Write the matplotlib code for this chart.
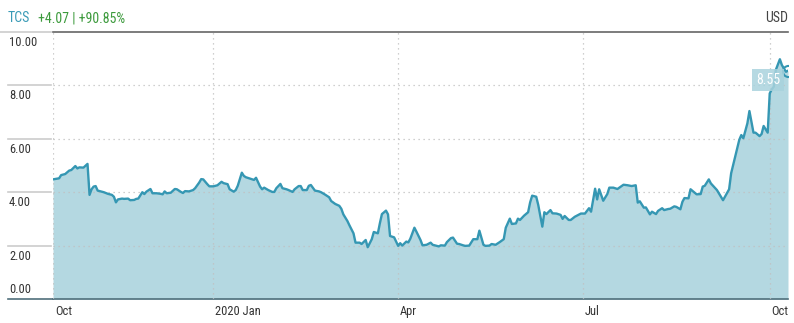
import numpy as np
import matplotlib
matplotlib.use("Agg")
import matplotlib.pyplot as plt
import matplotlib.transforms as mtransforms
from matplotlib.font_manager import fontManager

# day offsets from 2019-10-14 and closing price (USD)
start = np.datetime64("2019-10-14")
days = [0, 3, 4, 6, 8, 9, 11, 12, 13, 15, 17, 18, 19, 20, 21, 22, 25, 27, 29, 30,
        31, 32, 34, 35, 37, 38, 40, 41, 42, 44, 45, 46, 48, 49, 51, 53, 54, 55, 56, 58,
        60, 61, 63, 64, 65, 67, 69, 70, 72, 73, 74, 76, 77, 79, 81, 83, 84, 86, 87, 89,
        90, 91, 93, 94, 95, 97,
        99, 100, 102, 103, 104, 106, 108, 109, 110, 112, 113, 115, 116, 118, 119, 121,
        122, 123, 125, 126, 127, 129, 131, 132, 134, 136, 137, 139, 141, 142, 143, 145,
        146, 148, 149, 151, 152, 154, 155, 157, 158, 160, 161, 162, 164, 165, 166, 168,
        170, 171, 172, 174, 175, 176, 178, 179, 181, 182, 184, 186, 187, 190, 191, 193,
        194, 196,
        197, 199, 200, 202, 203, 205, 207, 209, 210, 212, 213, 215, 216, 218, 220, 222,
        223, 225, 226, 228, 229, 230, 232, 234, 235, 236, 238, 239, 241, 242, 243, 245,
        246, 248, 250, 251, 252, 254, 255, 257, 258, 260, 261, 262, 264, 265, 267, 268,
        269, 271, 273, 274, 276, 278, 280, 281, 283, 285, 287, 288, 289, 291, 292, 294,
        295, 297, 298, 300, 301, 303, 304, 306, 307, 309, 310, 311, 313, 314, 316, 317,
        319, 320, 321, 323, 324, 327, 330, 333, 334, 336, 338, 339, 340, 342, 343, 345,
        346, 348, 349, 350, 352, 353, 354, 355, 356, 358, 359, 361, 362]
price = [4.48, 4.52, 4.64, 4.68, 4.81, 4.83, 4.98, 4.89, 4.93, 4.92, 5.06, 3.90, 4.11, 4.21, 4.23, 4.06, 4.00, 3.94, 3.90, 3.83,
         3.62, 3.73, 3.76, 3.75, 3.76, 3.70, 3.71, 3.75, 3.76, 4.00, 3.93, 4.02, 4.12, 3.96, 3.96, 3.94, 3.92, 4.03, 3.96, 3.98,
         4.12, 4.11, 4.01, 3.97, 4.04, 4.03, 4.08, 4.15, 4.36, 4.49, 4.48, 4.30, 4.22, 4.22, 4.26, 4.39, 4.34, 4.30, 4.11, 4.02,
         4.08, 4.24, 4.73, 4.61, 4.56, 4.51,
         4.46, 4.54, 4.21, 4.11, 4.17, 4.08, 4.01, 4.01, 4.15, 4.31, 4.15, 4.11, 4.08, 4.01, 4.11, 4.23,
         4.23, 4.08, 4.08, 4.24, 4.27, 4.06, 4.03, 4.00, 3.91, 3.81, 3.67, 3.56, 3.49, 3.38, 3.17, 2.92,
         2.76, 2.46, 2.11, 2.11, 2.06, 2.21, 1.94, 2.24, 2.51, 2.46, 2.84, 3.18, 3.31, 3.17, 2.36, 2.31,
         1.99, 2.09, 2.00, 2.15, 2.12, 2.26, 2.67, 2.52, 2.21, 2.01, 2.03, 2.11, 2.03, 1.97, 2.01, 2.00,
         2.13, 2.28,
         2.30, 2.07, 2.06, 2.01, 1.99, 2.00, 2.24, 2.24, 2.56, 2.03, 1.99, 2.00, 2.06, 2.03, 2.13, 2.24,
         2.67, 3.01, 2.81, 2.83, 3.01, 2.96, 3.12, 3.25, 3.62, 3.87, 3.83, 3.52, 2.71, 3.25, 3.18, 3.33,
         3.21, 3.20, 3.15, 3.00, 3.11, 2.96, 2.96, 3.08, 3.12, 3.20, 3.20, 3.20, 3.40, 3.27, 4.13, 3.73,
         4.11, 3.68, 3.93, 4.17, 4.17, 4.12, 4.23, 4.28, 4.26, 4.23, 4.26, 3.61, 3.66, 3.42, 3.43, 3.17,
         3.27, 3.18, 3.30, 3.40, 3.33, 3.37, 3.38, 3.47, 3.45, 3.36, 3.64, 3.78, 3.77, 4.11, 3.98, 3.92,
         3.93, 4.21, 4.24, 4.48, 4.33, 4.08, 3.70, 4.11, 4.71, 5.33, 5.96, 6.14, 6.02, 6.58, 7.04, 6.23,
         6.23, 6.10, 6.18, 6.48, 6.23, 7.70, 7.85, 7.95, 8.58, 8.98, 8.76, 8.51, 8.55]

tick_dates = ["2019-10-14", "2020-01-01", "2020-04-01", "2020-07-01", "2020-10-01"]
tick_labels = ["Oct", "2020 Jan", "Apr", "Jul", "Oct"]
y_ticks = [0, 2, 4, 6, 8, 10]
last_label = "8.55"

names = {f.name for f in fontManager.ttflist}
fam = "DejaVu Sans"
for cand in ["Roboto Condensed", "Liberation Sans Narrow", "Open Sans Condensed",
             "DejaVu Sans Condensed", "Roboto"]:
    if cand in names:
        fam = cand
        break
plt.rcParams["font.family"] = [fam, "DejaVu Sans"]
FS = 9 if "Condensed" in fam or "Narrow" in fam else 8.5

LINE = "#3597b3"
FILL = "#b4d8e1"
TXT = "#333333"

dates = start + np.array(days).astype("timedelta64[D]")

fig = plt.figure(figsize=(7.94, 3.23), dpi=100)
ax = fig.add_axes([53 / 794, 24 / 323, 735 / 794, 267 / 323])

ax.fill_between(dates, price, 0, color=FILL, lw=0, zorder=1)
ax.plot(dates, price, color=LINE, lw=1.7, zorder=3)
ax.plot(dates[-1:], price[-1:], "o", ms=8, mfc="none", mec=LINE, mew=1.5, zorder=4)

ax.set_xlim(dates[0], dates[-1])
ax.set_ylim(0, 10)

xt = np.array(tick_dates, dtype="datetime64[D]")
ax.set_xticks(xt)
ax.set_xticklabels(tick_labels, ha="left", fontsize=FS, color=TXT)
ax.tick_params(axis="x", length=0, pad=4)
for lbl in ax.get_xticklabels():
    lbl.set_transform(lbl.get_transform() + mtransforms.ScaledTranslation(2 / 100, 0, fig.dpi_scale_trans))
ax.set_yticks(y_ticks[1:-1])
ax.set_yticklabels([])
ax.tick_params(axis="y", length=0)
ax.grid(True, linestyle=(0, (1, 3)), color="#c0c0c0", lw=0.9, zorder=2)
ax.set_axisbelow(False)

for s in ["left", "right"]:
    ax.spines[s].set_visible(False)
ax.spines["top"].set_color("#666666")
ax.spines["top"].set_linewidth(1.2)
ax.spines["bottom"].set_color("#50707c")
ax.spines["bottom"].set_linewidth(1.2)

# y labels in the left margin
trans = mtransforms.blended_transform_factory(fig.transFigure, ax.transData)
for v in y_ticks:
    if v == 0:
        ax.plot([8 / 794, 53 / 794], [0, 0], color="#50707c", lw=1.2, transform=trans, clip_on=False)
        ax.text(9 / 794, 0.1, f"{v:.2f}", transform=trans, ha="left", va="bottom",
                fontsize=FS, color=TXT)
    else:
        x0 = 0 if v == 10 else 8 / 794
        ax.plot([x0, 51 / 794], [v, v], color="#cccccc", lw=1.2, transform=trans, clip_on=False)
        ax.text(9 / 794, v - 0.15, f"{v:.2f}", transform=trans, ha="left", va="top",
                fontsize=FS, color=TXT)

# last value badge
ax.text(dates[-1] - np.timedelta64(4, "D"), 8.2, last_label, ha="right", va="center",
        fontsize=FS + 1, color="white",
        bbox=dict(boxstyle="square,pad=0.3", fc="#a9d3dd", ec="none", alpha=0.85), zorder=5)

# header
fig.text(8 / 794, 1 - 18 / 323, "TCS", fontsize=FS + 1, color="#3a9bb6", va="center", ha="left")
fig.text(38 / 794, 1 - 18 / 323, "+4.07 | +90.85%", fontsize=FS + 1, color="#3c9a3c", va="center", ha="left")
fig.text(788 / 794, 1 - 18 / 323, "USD", fontsize=FS + 1, color="#444444", va="center", ha="right")

fig.savefig("out.png", dpi=100)
